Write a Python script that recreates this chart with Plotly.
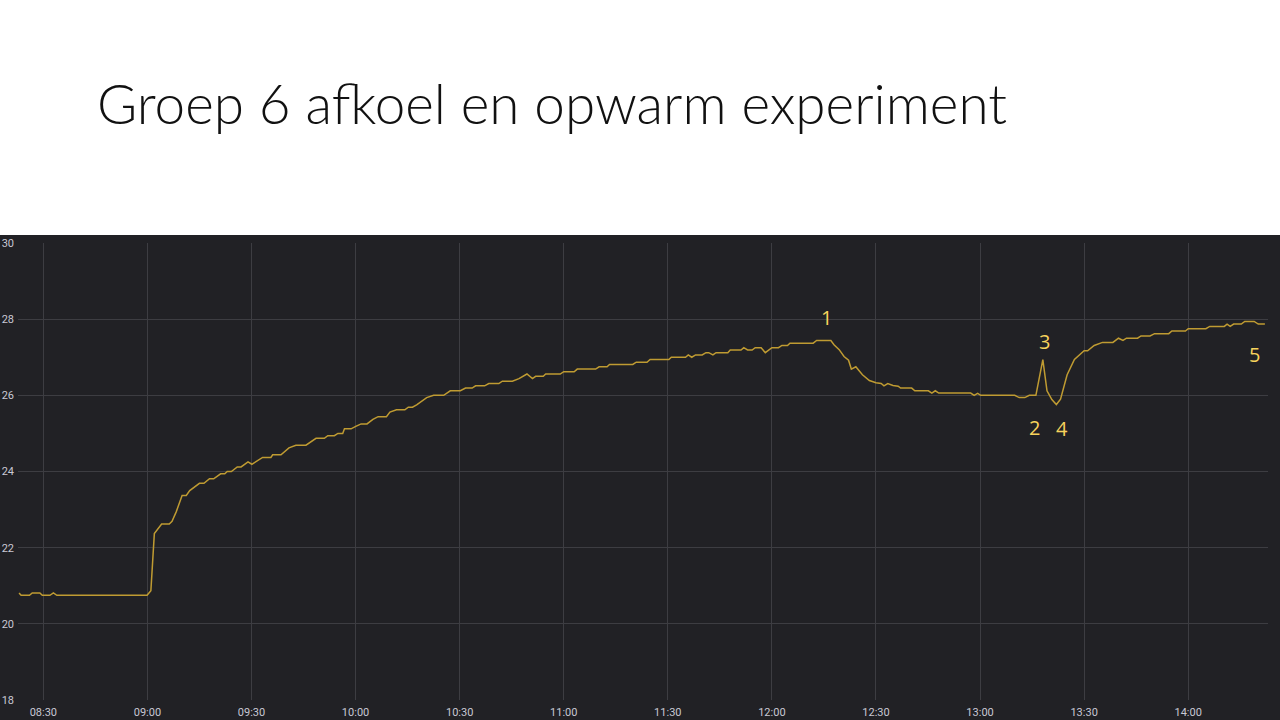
import pandas as pd
import plotly.graph_objects as go

# ---- data (minutes after 08:30, temperature in °C) ----
minutes = [
    -7.0, -6.4, -4.0, -3.2, -1.0, -0.3, 1.9, 2.9, 3.9, 29.9, 31.0, 32.0, 34.1, 36.3, 37.1,
    38.3, 40.0, 41.2, 42.2, 43.9, 45.0, 46.3, 47.9, 49.1, 51.1, 52.3, 53.0, 54.2, 55.9, 57.0,
    59.0, 60.1, 63.2, 65.6, 66.1, 68.5, 70.8, 72.8, 75.7, 78.6, 81.0, 82.0, 83.9, 84.9, 86.3,
    86.8, 88.7, 90.2, 91.6, 93.3, 95.0, 96.5, 98.9, 99.9, 101.8, 104.2, 105.2, 106.4, 107.6,
    110.5, 112.5, 115.4, 117.3, 120.2, 121.7, 123.6, 124.6, 127.2, 128.4, 131.3, 132.3, 135.2,
    137.1, 139.4, 141.0, 141.9, 144.1, 144.8, 149.0, 150.0, 153.0, 153.9, 159.2, 160.2, 162.5,
    163.2, 169.9, 170.9, 174.0, 174.9, 180.3, 181.0, 185.1, 185.9, 186.9, 188.0, 189.9, 191.0,
    191.8, 193.0, 193.9, 197.3, 198.0, 201.1, 201.9, 203.0, 204.3, 205.2, 206.9, 208.1, 209.3,
    210.0, 211.9, 212.9, 214.5, 215.2, 221.9, 222.9, 227.0, 227.9, 229.4, 230.8, 232.1, 232.9,
    234.2, 236.1, 238.1, 240.0, 241.5, 242.3, 243.4, 244.9, 246.4, 247.1, 250.3, 251.2, 255.1,
    256.1, 257.1, 258.1, 267.3, 268.3, 269.3, 270.2, 280.0, 281.3, 282.9, 284.2, 286.1, 288.1,
    289.3, 290.7, 292.0, 293.2, 295.1, 297.2, 300.0, 301.0, 302.9, 305.3, 308.3, 309.9, 311.2,
    312.2, 315.4, 316.4, 319.0, 320.3, 324.4, 325.3, 329.2, 330.0, 335.1, 336.2, 340.4, 341.2,
    342.1, 343.1, 345.3, 346.3, 349.0, 350.2, 352.1,
]
temps = [
    20.81, 20.75, 20.75, 20.81, 20.81, 20.75, 20.75, 20.81, 20.75, 20.75, 20.87, 22.37, 22.62, 22.62, 22.69,
    22.94, 23.37, 23.37, 23.50, 23.62, 23.69, 23.69, 23.81, 23.81, 23.94, 23.94, 24.00, 24.00, 24.12, 24.12,
    24.25, 24.19, 24.37, 24.37, 24.44, 24.44, 24.62, 24.69, 24.69, 24.87, 24.87, 24.94, 24.94, 25.00, 25.00,
    25.12, 25.12, 25.19, 25.25, 25.25, 25.37, 25.44, 25.44, 25.56, 25.62, 25.62, 25.69, 25.69, 25.75,
    25.94, 26.00, 26.00, 26.12, 26.12, 26.19, 26.19, 26.25, 26.25, 26.31, 26.31, 26.37, 26.37,
    26.44, 26.56, 26.44, 26.50, 26.50, 26.56, 26.56, 26.62, 26.62, 26.69, 26.69, 26.75, 26.75,
    26.81, 26.81, 26.87, 26.87, 26.94, 26.94, 27.00, 27.00, 27.06, 27.00, 27.06, 27.06, 27.12,
    27.12, 27.06, 27.12, 27.12, 27.19, 27.19, 27.25, 27.19, 27.19, 27.25, 27.25, 27.12, 27.19,
    27.25, 27.25, 27.31, 27.31, 27.37, 27.37, 27.44, 27.44, 27.33, 27.20, 27.02, 26.92, 26.69,
    26.75, 26.54, 26.39, 26.33, 26.31, 26.25, 26.31, 26.26, 26.24, 26.19, 26.19, 26.12, 26.12,
    26.06, 26.12, 26.06, 26.06, 26.00, 26.05, 26.00, 26.00, 25.94, 25.94, 26.00, 26.00, 26.94,
    26.12, 25.89, 25.76, 25.90, 26.54, 26.94, 27.17, 27.17, 27.31, 27.39, 27.39, 27.50, 27.44,
    27.50, 27.50, 27.56, 27.56, 27.62, 27.62, 27.69, 27.69, 27.75, 27.75, 27.81, 27.81, 27.87,
    27.81, 27.87, 27.87, 27.94, 27.94, 27.87, 27.87,
]

# point labels placed on the chart
label_texts = ["1", "2", "3", "4", "5"]
label_minutes = [225.6, 285.6, 288.7, 293.5, 349.2]
label_temps = [28.05, 25.16, 27.42, 25.14, 27.07]

y_ticks = [18, 20, 22, 24, 26, 28, 30]
x_range_minutes = [-7.3, 353.0]
title_text = "Groep 6 afkoel en opwarm experiment"

start = pd.Timestamp("2023-01-01 08:30:00")
x = start + pd.to_timedelta(minutes, unit="min")
lx = start + pd.to_timedelta(label_minutes, unit="min")
xr = start + pd.to_timedelta(x_range_minutes, unit="min")

BG = "#212125"
GRID = "#3d3d42"
TXT = "#c8c8d4"

fig = go.Figure()
fig.add_trace(go.Scatter(x=x, y=temps, mode="lines",
                         line=dict(color="#BF9B32", width=1.5), hoverinfo="skip"))

for t, xx, yy in zip(label_texts, lx, label_temps):
    fig.add_annotation(x=xx, y=yy, xref="x", yref="y", text=t, showarrow=False,
                       font=dict(family="Open Sans", size=20, color="#F7D35C"))

W, H = 1280, 720
ml, mr, mt, mb = 18, 12, 243, 20
pw, ph = W - ml - mr, H - mt - mb
panel_top = 235
fig.add_shape(type="rect", xref="paper", yref="paper", layer="below",
              x0=-ml / pw, x1=(W - ml) / pw, y0=-mb / ph, y1=(H - mb - panel_top) / ph,
              fillcolor=BG, line=dict(width=0))

fig.update_layout(
    width=W, height=H,
    margin=dict(l=ml, r=mr, t=mt, b=mb, autoexpand=False),
    paper_bgcolor="white", plot_bgcolor="rgba(0,0,0,0)",
    showlegend=False,
    title=dict(text=title_text, x=97 / W, xanchor="left", xref="container",
               y=1 - 105 / H, yanchor="middle", yref="container",
               font=dict(family="Lato", size=54.8, color="#111111", weight=300)),
    xaxis=dict(range=[xr[0], xr[1]], type="date", tickformat="%H:%M", automargin=False,
               dtick=30 * 60 * 1000, tick0=start, showgrid=True, gridcolor=GRID,
               gridwidth=1, zeroline=False, showline=False, ticks="",
               ticklabelstandoff=4,
               tickfont=dict(family="Roboto", size=11, color=TXT)),
    yaxis=dict(range=[18, 30], tickvals=y_ticks, ticktext=[str(v) for v in y_ticks],
               automargin=False, ticklabelstandoff=3,
               showgrid=True, gridcolor=GRID, gridwidth=1, zeroline=False,
               showline=False, ticks="",
               tickfont=dict(family="Roboto", size=11, color=TXT)),
)

fig.write_html("out.html", config={"displayModeBar": False},
               post_script="document.body.style.margin='0';document.body.style.overflow='hidden';")
